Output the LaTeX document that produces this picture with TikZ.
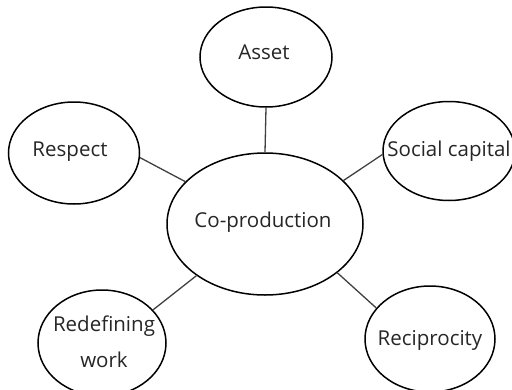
\documentclass[tikz,border=0pt]{standalone}
\usepackage{fontspec}
\setmainfont{Open Sans}
\usetikzlibrary{shapes.geometric}
\begin{document}
\begin{tikzpicture}[x=1pt,y=-1pt,
  bub/.style={draw=black,line width=1.5pt,ellipse,inner sep=0pt},
  lbl/.style={font=\fontsize{20.5}{36}\selectfont,text=black!85,inner sep=0pt,align=center},
  link/.style={draw=black!75,line width=1.3pt}]
\useasboundingbox (0,0) rectangle (512,389);
\node[bub,minimum width=132pt,minimum height=100pt] (asset) at (266,57) {};
\node[bub,minimum width=131pt,minimum height=102pt] (resp) at (74,153) {};
\node[bub,minimum width=132pt,minimum height=99pt] (soc) at (449,151) {};
\node[bub,minimum width=196pt,minimum height=142pt] (co) at (265,224) {};
\node[bub,minimum width=128pt,minimum height=106pt] (red) at (102,343) {};
\node[bub,minimum width=130pt,minimum height=106pt] (rec) at (430,339) {};
\node[lbl] (tasset) at (264,52) {Asset};
\node[lbl] (tresp) at (70,152) {Respect};
\node[lbl] (tsoc) at (449,151) {Social capital};
\node[lbl] (tco) at (263,222) {Co-production};
\node[lbl] (tred) at (104,342) {Redefining\\work};
\node[lbl] (trec) at (430,340) {Reciprocity};
\draw[link] (asset.south) -- (co.north);
\draw[link] (resp.-4) -- (co.152);
\draw[link] (soc.183) -- (co.29);
\draw[link] (red.33) -- (co.217);
\draw[link] (rec.150) -- (co.326);
\end{tikzpicture}
\end{document}
